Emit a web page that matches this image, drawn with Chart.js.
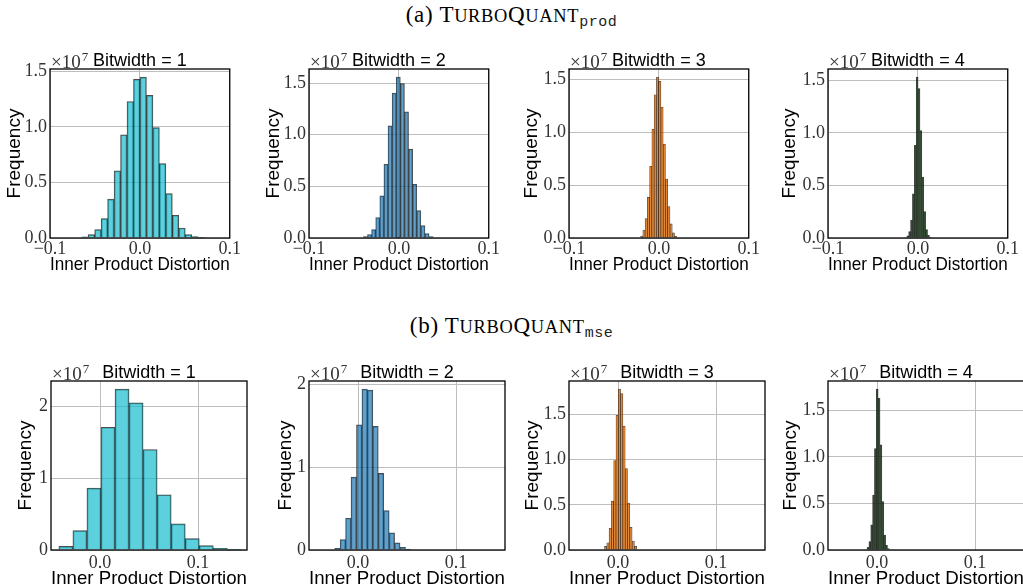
<!DOCTYPE html>
<html>
<head>
<meta charset="utf-8">
<script src="https://cdn.jsdelivr.net/npm/chart.js@4.4.1/dist/chart.umd.min.js"></script>
<style>
  body { margin: 0; width: 1023px; height: 587px; overflow: hidden; background: #fff; position: relative; }
  .sup { position: absolute; left: 0; width: 1023px; text-align: center; font-family: 'Liberation Serif', serif;
         font-size: 23px; line-height: 26px; color: #000; white-space: nowrap; letter-spacing: 0.7px; }
  .sc { font-size: 0.8em; }
  .sub { font-family: 'Liberation Mono', monospace; font-size: 15px; position: relative; top: 4px; letter-spacing: 0.5px; color: #222; }
  canvas { position: absolute; }
</style>
</head>
<body>
<div class="sup" style="top:2px">(a) T<span class="sc">URBO</span>Q<span class="sc">UANT</span><span class="sub">prod</span></div>
<div class="sup" style="top:313px">(b) T<span class="sc">URBO</span>Q<span class="sc">UANT</span><span class="sub">mse</span></div>

<canvas id="p1"></canvas><canvas id="p2"></canvas><canvas id="p3"></canvas><canvas id="p4"></canvas>
<canvas id="m1"></canvas><canvas id="m2"></canvas><canvas id="m3"></canvas><canvas id="m4"></canvas>

<script>
// frequencies in units of 1e7, one value per histogram bin
const bitwidths = [1, 2, 3, 4];

const prodFreq1 = [0.01, 0.03, 0.075, 0.175, 0.35, 0.605, 0.93, 1.23, 1.43, 1.45, 1.285, 0.995, 0.67, 0.40, 0.205, 0.09, 0.03, 0.012, 0.005];
const prodFreq2 = [0.013, 0.032, 0.081, 0.198, 0.409, 0.714, 1.085, 1.403, 1.558, 1.494, 1.221, 0.86, 0.519, 0.266, 0.12, 0.042, 0.013];
const prodFreq3 = [0.019, 0.076, 0.184, 0.384, 0.679, 1.029, 1.356, 1.524, 1.483, 1.238, 0.889, 0.559, 0.298, 0.133, 0.048, 0.016];
const prodFreq4 = [0.005, 0.02, 0.06, 0.17, 0.42, 0.88, 1.53, 1.42, 1.02, 0.58, 0.25, 0.08, 0.025, 0.007];
const prodBinStart = [-0.0647, -0.0395, -0.0204, -0.01445];
const prodBinWidth = [0.0072, 0.00457, 0.00252, 0.0021];

const mseFreq1 = [0.051, 0.27, 0.862, 1.71, 2.242, 2.05, 1.40, 0.77, 0.363, 0.158, 0.06, 0.023, 0.009];
const mseFreq2 = [0.02, 0.125, 0.383, 0.879, 1.508, 1.94, 1.927, 1.49, 0.923, 0.476, 0.206, 0.085, 0.032, 0.01];
const mseFreq3 = [0.04, 0.08, 0.24, 0.54, 0.99, 1.49, 1.78, 1.73, 1.37, 0.90, 0.52, 0.25, 0.10, 0.04];
const mseFreq4 = [0.03, 0.09, 0.27, 0.59, 1.09, 1.73, 1.63, 1.13, 0.52, 0.16, 0.05, 0.015];
const mseBinStart = [-0.042, -0.0238, -0.0138, -0.0102];
const mseBinWidth = [0.01433, 0.00556, 0.00235, 0.0019];

const prodXTicks = [-0.1, 0, 0.1];
const mseXTicks = [0, 0.1];
const halfYTicks = [0, 0.5, 1.0, 1.5];
const unitYTicks = [0, 1, 2];

const fills = ['rgba(23,190,207,0.7)', 'rgba(31,119,180,0.7)', 'rgba(255,127,14,0.7)', 'rgba(30,62,30,0.75)'];
const edgeWidths = [1, 0.8, 0.6, 0.5];

const SERIF = 'Liberation Serif';
const SANS = 'Liberation Sans';

function fmt(v, d) {
  const s = Math.abs(v).toFixed(d);
  return v < -1e-9 ? '\u2212' + s : s;
}

const framePlugin = {
  id: 'frame',
  afterDraw(chart) {
    const { ctx, chartArea: a } = chart;
    const o = chart.options.plugins.frame;
    ctx.save();
    ctx.strokeStyle = '#000';
    ctx.lineWidth = 1.3;
    ctx.strokeRect(a.left, a.top, a.right - a.left, a.bottom - a.top);
    ctx.fillStyle = '#000';
    ctx.font = '18px ' + SANS;
    ctx.textAlign = 'center';
    ctx.textBaseline = 'alphabetic';
    ctx.fillText('Bitwidth = ' + o.bits, (a.left + a.right) / 2, a.top - 3);
    ctx.fillStyle = '#333';
    ctx.textAlign = 'left';
    ctx.font = '19px ' + SERIF;
    ctx.fillText('\u00d710', a.left + 1, a.top - 1);
    const w = ctx.measureText('\u00d710').width;
    ctx.font = '13px ' + SERIF;
    ctx.fillText('7', a.left + 2 + w, a.top - 8);
    ctx.restore();
  }
};

function panel(id, left, top, w, h, freq, start, width, xr, xTicks, yTicks, yDec, bi, yTitleOff, xTickPad, xTitlePad) {
  const cv = document.getElementById(id);
  const cw = w + 56, ch = h + 80;
  cv.width = cw; cv.height = ch;
  cv.style.width = cw + 'px'; cv.style.height = ch + 'px';
  cv.style.left = (left - 50) + 'px'; cv.style.top = (top - 40) + 'px';
  const pts = freq.map((f, i) => ({ x: start + (i + 0.5) * width, y: f }));
  const ymax = Math.max(...freq) * 1.05;
  new Chart(cv, {
    type: 'bar',
    data: {
      datasets: [{
        data: pts,
        backgroundColor: fills[bi],
        borderColor: 'rgba(0,0,0,0.7)',
        borderWidth: edgeWidths[bi],
        borderSkipped: 'start',
        barPercentage: 1,
        categoryPercentage: 1
      }]
    },
    options: {
      responsive: false,
      animation: false,
      devicePixelRatio: 1,
      layout: { padding: { top: 40, right: 6, left: 0, bottom: 0 } },
      plugins: { legend: { display: false }, tooltip: { enabled: false }, frame: { bits: bitwidths[bi] } },
      scales: {
        x: {
          type: 'linear', min: xr[0], max: xr[1], offset: false,
          afterFit: s => { s.height = 40; },
          afterBuildTicks: s => { s.ticks = xTicks.map(v => ({ value: v })); },
          grid: { color: '#bdbdbd', lineWidth: 1, drawTicks: false, offset: false },
          border: { display: false },
          ticks: { padding: xTickPad, color: '#333', font: { family: SERIF, size: 18 }, maxRotation: 0, callback: v => fmt(v, 1) },
          title: { display: true, text: 'Inner Product Distortion', color: '#000', font: { family: SANS, size: 19 }, padding: { top: 0, bottom: xTitlePad } }
        },
        y: {
          min: 0, max: ymax,
          afterFit: s => { s.width = 50; },
          afterBuildTicks: s => { s.ticks = yTicks.map(v => ({ value: v })); },
          grid: { color: '#bdbdbd', lineWidth: 1, drawTicks: false },
          border: { display: false },
          ticks: { padding: 3, color: '#333', font: { family: SERIF, size: 18 }, callback: v => fmt(v, yDec) },
          title: { display: true, text: 'Frequency', color: '#000', font: { family: SANS, size: 19 }, padding: { top: 50 - yTitleOff - 11.4, bottom: 0 } }
        }
      }
    },
    plugins: [framePlugin]
  });
}

const prodLefts = [50, 309, 569, 828];
const mseLefts = [51, 309, 569, 828];
const prodFreqs = [prodFreq1, prodFreq2, prodFreq3, prodFreq4];
const mseFreqs = [mseFreq1, mseFreq2, mseFreq3, mseFreq4];
const prodTitleOff = [35, 35.5, 37.3, 38];
const mseTitleOff = [25.5, 23.5, 36.5, 37.5];

for (let i = 0; i < 4; i++) {
  panel('p' + (i + 1), prodLefts[i], 69, 185, 169, prodFreqs[i], prodBinStart[i], prodBinWidth[i],
        [-0.1, 0.1], prodXTicks, halfYTicks, 1, i, prodTitleOff[i], 0, 1.4);
  panel('m' + (i + 1), mseLefts[i], 381, 196, 169, mseFreqs[i], mseBinStart[i], mseBinWidth[i],
        [-0.05, 0.15], mseXTicks, i < 2 ? unitYTicks : halfYTicks, i < 2 ? 0 : 1, i, mseTitleOff[i], 2, 0);
}
</script>
</body>
</html>
